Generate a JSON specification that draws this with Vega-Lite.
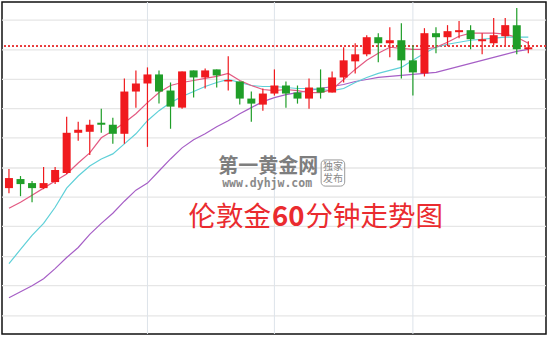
{
  "$schema": "https://vega.github.io/schema/vega-lite/v6.json",
  "width": 544,
  "height": 332,
  "padding": {"left": 2, "top": 2, "right": 4, "bottom": 4},
  "autosize": {"type": "none"},
  "background": "white",
  "config": {"view": {"stroke": "#111111", "strokeWidth": 1.5}},
  "datasets": {
    "candles": [
      {"t": 1, "dir": "up", "open": 1264.7, "close": 1265.7, "high": 1266.6, "low": 1264.2},
      {"t": 2, "dir": "down", "open": 1265.6, "close": 1265.1, "high": 1265.9, "low": 1263.9},
      {"t": 3, "dir": "down", "open": 1265.2, "close": 1264.7, "high": 1265.4, "low": 1263.3},
      {"t": 4, "dir": "up", "open": 1264.7, "close": 1265.2, "high": 1266.8, "low": 1264.6},
      {"t": 5, "dir": "up", "open": 1265.3, "close": 1266.5, "high": 1266.8, "low": 1265.1},
      {"t": 6, "dir": "up", "open": 1266.2, "close": 1270.2, "high": 1271.8, "low": 1266.1},
      {"t": 7, "dir": "up", "open": 1270.2, "close": 1270.5, "high": 1271.3, "low": 1269.4},
      {"t": 8, "dir": "up", "open": 1270.3, "close": 1271.0, "high": 1271.5, "low": 1268.0},
      {"t": 9, "dir": "down", "open": 1271.2, "close": 1271.0, "high": 1272.6, "low": 1270.2},
      {"t": 10, "dir": "down", "open": 1271.0, "close": 1270.1, "high": 1271.7, "low": 1269.1},
      {"t": 11, "dir": "up", "open": 1270.1, "close": 1274.3, "high": 1275.6, "low": 1269.1},
      {"t": 12, "dir": "up", "open": 1274.3, "close": 1275.1, "high": 1276.4, "low": 1272.7},
      {"t": 13, "dir": "up", "open": 1275.1, "close": 1276.0, "high": 1276.7, "low": 1268.8},
      {"t": 14, "dir": "down", "open": 1276.0, "close": 1274.3, "high": 1276.4, "low": 1273.1},
      {"t": 15, "dir": "down", "open": 1274.4, "close": 1272.8, "high": 1275.2, "low": 1270.6},
      {"t": 16, "dir": "up", "open": 1272.7, "close": 1276.3, "high": 1276.3, "low": 1272.6},
      {"t": 17, "dir": "down", "open": 1276.4, "close": 1275.7, "high": 1276.4, "low": 1273.7},
      {"t": 18, "dir": "up", "open": 1275.7, "close": 1276.4, "high": 1276.6, "low": 1274.6},
      {"t": 19, "dir": "down", "open": 1276.5, "close": 1275.9, "high": 1276.5, "low": 1274.7},
      {"t": 20, "dir": "up", "open": 1275.3, "close": 1275.45, "high": 1277.8, "low": 1274.4},
      {"t": 21, "dir": "down", "open": 1275.3, "close": 1273.6, "high": 1275.3, "low": 1273.0},
      {"t": 22, "dir": "down", "open": 1273.6, "close": 1273.1, "high": 1274.3, "low": 1271.3},
      {"t": 23, "dir": "up", "open": 1273.0, "close": 1274.1, "high": 1274.6, "low": 1272.4},
      {"t": 24, "dir": "up", "open": 1274.1, "close": 1274.9, "high": 1276.5, "low": 1273.9},
      {"t": 25, "dir": "down", "open": 1274.9, "close": 1274.1, "high": 1275.3, "low": 1272.7},
      {"t": 26, "dir": "down", "open": 1274.2, "close": 1273.6, "high": 1274.9, "low": 1273.1},
      {"t": 27, "dir": "up", "open": 1273.6, "close": 1274.7, "high": 1275.6, "low": 1272.6},
      {"t": 28, "dir": "down", "open": 1274.7, "close": 1274.2, "high": 1276.5, "low": 1273.6},
      {"t": 29, "dir": "up", "open": 1274.2, "close": 1275.7, "high": 1276.3, "low": 1274.2},
      {"t": 30, "dir": "up", "open": 1275.7, "close": 1277.4, "high": 1278.7, "low": 1275.2},
      {"t": 31, "dir": "up", "open": 1277.3, "close": 1278.0, "high": 1279.1, "low": 1276.1},
      {"t": 32, "dir": "up", "open": 1278.0, "close": 1279.7, "high": 1279.9, "low": 1277.8},
      {"t": 33, "dir": "down", "open": 1279.7, "close": 1279.1, "high": 1280.1, "low": 1277.2},
      {"t": 34, "dir": "up", "open": 1279.1, "close": 1279.4, "high": 1280.7, "low": 1277.7},
      {"t": 35, "dir": "down", "open": 1279.4, "close": 1277.4, "high": 1281.1, "low": 1275.6},
      {"t": 36, "dir": "down", "open": 1277.4, "close": 1276.2, "high": 1278.9, "low": 1273.9},
      {"t": 37, "dir": "up", "open": 1276.1, "close": 1280.1, "high": 1280.6, "low": 1275.8},
      {"t": 38, "dir": "down", "open": 1280.1, "close": 1279.7, "high": 1280.7, "low": 1278.1},
      {"t": 39, "dir": "up", "open": 1279.7, "close": 1280.3, "high": 1280.9, "low": 1278.8},
      {"t": 40, "dir": "up", "open": 1280.2, "close": 1280.4, "high": 1281.3, "low": 1279.6},
      {"t": 41, "dir": "down", "open": 1280.4, "close": 1279.5, "high": 1280.9, "low": 1278.5},
      {"t": 42, "dir": "up", "open": 1279.3, "close": 1279.5, "high": 1280.1, "low": 1278.0},
      {"t": 43, "dir": "up", "open": 1279.1, "close": 1279.9, "high": 1281.6, "low": 1278.9},
      {"t": 44, "dir": "up", "open": 1279.8, "close": 1280.9, "high": 1281.6, "low": 1278.9},
      {"t": 45, "dir": "down", "open": 1280.9, "close": 1278.5, "high": 1282.6, "low": 1278.0},
      {"t": 46, "dir": "up", "open": 1278.5, "close": 1278.7, "high": 1279.3, "low": 1278.1}
    ],
    "ma": [
      {"t": 1, "ma5": 1262.7, "ma10": 1257.2, "ma20": 1253.8},
      {"t": 2, "ma5": 1263.3, "ma10": 1258.6, "ma20": 1254.4},
      {"t": 3, "ma5": 1264.0, "ma10": 1260.0, "ma20": 1255.0},
      {"t": 4, "ma5": 1264.7, "ma10": 1261.2, "ma20": 1255.7},
      {"t": 5, "ma5": 1265.4, "ma10": 1262.8, "ma20": 1256.7},
      {"t": 6, "ma5": 1266.1, "ma10": 1264.7, "ma20": 1257.8},
      {"t": 7, "ma5": 1267.2, "ma10": 1265.9, "ma20": 1258.8},
      {"t": 8, "ma5": 1268.2, "ma10": 1266.9, "ma20": 1260.1},
      {"t": 9, "ma5": 1269.7, "ma10": 1267.6, "ma20": 1261.2},
      {"t": 10, "ma5": 1270.4, "ma10": 1268.1, "ma20": 1262.2},
      {"t": 11, "ma5": 1271.2, "ma10": 1269.1, "ma20": 1263.4},
      {"t": 12, "ma5": 1272.1, "ma10": 1270.1, "ma20": 1264.5},
      {"t": 13, "ma5": 1273.2, "ma10": 1271.4, "ma20": 1265.2},
      {"t": 14, "ma5": 1274.2, "ma10": 1272.4, "ma20": 1266.4},
      {"t": 15, "ma5": 1274.9, "ma10": 1273.2, "ma20": 1267.6},
      {"t": 16, "ma5": 1275.2, "ma10": 1273.8, "ma20": 1268.7},
      {"t": 17, "ma5": 1275.4, "ma10": 1274.3, "ma20": 1269.5},
      {"t": 18, "ma5": 1275.6, "ma10": 1274.8, "ma20": 1270.1},
      {"t": 19, "ma5": 1275.8, "ma10": 1275.2, "ma20": 1270.8},
      {"t": 20, "ma5": 1276.1, "ma10": 1275.5, "ma20": 1271.4},
      {"t": 21, "ma5": 1275.4, "ma10": 1275.2, "ma20": 1272.1},
      {"t": 22, "ma5": 1274.9, "ma10": 1274.9, "ma20": 1272.7},
      {"t": 23, "ma5": 1274.5, "ma10": 1274.8, "ma20": 1273.3},
      {"t": 24, "ma5": 1274.4, "ma10": 1274.8, "ma20": 1273.7},
      {"t": 25, "ma5": 1274.5, "ma10": 1274.7, "ma20": 1274.0},
      {"t": 26, "ma5": 1274.4, "ma10": 1274.6, "ma20": 1274.2},
      {"t": 27, "ma5": 1274.2, "ma10": 1274.6, "ma20": 1274.4},
      {"t": 28, "ma5": 1274.2, "ma10": 1274.5, "ma20": 1274.6},
      {"t": 29, "ma5": 1274.5, "ma10": 1274.4, "ma20": 1274.8},
      {"t": 30, "ma5": 1275.5, "ma10": 1274.6, "ma20": 1275.0},
      {"t": 31, "ma5": 1276.5, "ma10": 1275.2, "ma20": 1275.3},
      {"t": 32, "ma5": 1277.4, "ma10": 1275.7, "ma20": 1275.5},
      {"t": 33, "ma5": 1278.1, "ma10": 1276.1, "ma20": 1275.7},
      {"t": 34, "ma5": 1278.7, "ma10": 1276.4, "ma20": 1275.8},
      {"t": 35, "ma5": 1278.6, "ma10": 1276.7, "ma20": 1275.9},
      {"t": 36, "ma5": 1278.5, "ma10": 1277.4, "ma20": 1276.0},
      {"t": 37, "ma5": 1278.5, "ma10": 1278.1, "ma20": 1276.1},
      {"t": 38, "ma5": 1278.7, "ma10": 1278.7, "ma20": 1276.2},
      {"t": 39, "ma5": 1279.2, "ma10": 1279.0, "ma20": 1276.5},
      {"t": 40, "ma5": 1279.8, "ma10": 1279.2, "ma20": 1276.8},
      {"t": 41, "ma5": 1280.1, "ma10": 1279.4, "ma20": 1277.1},
      {"t": 42, "ma5": 1280.1, "ma10": 1279.5, "ma20": 1277.4},
      {"t": 43, "ma5": 1280.1, "ma10": 1279.6, "ma20": 1277.7},
      {"t": 44, "ma5": 1280.0, "ma10": 1279.7, "ma20": 1278.0},
      {"t": 45, "ma5": 1279.7, "ma10": 1279.7, "ma20": 1278.3},
      {"t": 46, "ma5": 1279.1, "ma10": 1279.7, "ma20": 1278.5}
    ],
    "hgrid": [
      {"p": 1281.4}, {"p": 1278.45}, {"p": 1275.5}, {"p": 1272.6}, {"p": 1269.7}, {"p": 1266.7},
      {"p": 1263.8}, {"p": 1260.9}, {"p": 1257.9}, {"p": 1255.0}, {"p": 1252.0}
    ],
    "vgrid": [{"t": 13}, {"t": 24}, {"t": 36}],
    "title": [
      {"t": 23.71, "p": 1261.75, "label": "伦敦金", "part": "a"},
      {"t": 23.8, "p": 1261.75, "label": "60", "part": "b"},
      {"t": 26.69, "p": 1261.75, "label": "分钟走势图", "part": "c"}
    ],
    "wm": [
      {"t": 23.46, "p": 1266.75, "label": "第一黄金网"}
    ],
    "wm2": [
      {"t": 23.37, "p": 1265.1, "label": "www.dyhjw.com"}
    ],
    "wm3": [
      {"t": 29.07, "p": 1266.8, "label": "独家"},
      {"t": 29.07, "p": 1265.6, "label": "发布"}
    ],
    "wmbox": [
      {"t1": 28.05, "t2": 30.09, "p1": 1267.5, "p2": 1264.9}
    ]
  },
  "encoding": {
    "x": {"type": "quantitative", "scale": {"domain": [0.83, 47.1], "nice": false, "zero": false}, "axis": null},
    "y": {"type": "quantitative", "scale": {"domain": [1250.2, 1283.2], "nice": false, "zero": false}, "axis": null}
  },
  "layer": [
    {
      "data": {"name": "hgrid"},
      "mark": {"type": "rule", "color": "#e6e6e6", "strokeWidth": 1.3},
      "encoding": {"y": {"field": "p", "type": "quantitative"}}
    },
    {
      "data": {"name": "vgrid"},
      "mark": {"type": "rule", "color": "#dde3ea", "strokeWidth": 1},
      "encoding": {"x": {"field": "t", "type": "quantitative"}}
    },
    {
      "data": {"name": "hgrid"},
      "mark": {"type": "rule", "color": "#e8383a", "strokeDash": [2, 2], "strokeWidth": 1},
      "encoding": {"y": {"datum": 1278.8, "type": "quantitative"}}
    },
    {
      "data": {"name": "ma"},
      "mark": {"type": "line", "color": "#a65fc6", "strokeWidth": 1.2},
      "encoding": {"x": {"field": "t"}, "y": {"field": "ma20"}}
    },
    {
      "data": {"name": "ma"},
      "mark": {"type": "line", "color": "#5fd0d8", "strokeWidth": 1.2},
      "encoding": {"x": {"field": "t"}, "y": {"field": "ma10"}}
    },
    {
      "data": {"name": "ma"},
      "mark": {"type": "line", "color": "#e35a82", "strokeWidth": 1.2},
      "encoding": {"x": {"field": "t"}, "y": {"field": "ma5"}}
    },
    {
      "data": {"name": "candles"},
      "mark": {"type": "rule", "strokeWidth": 1.2},
      "encoding": {
        "x": {"field": "t"},
        "y": {"field": "low"},
        "y2": {"field": "high"},
        "color": {"field": "dir", "type": "nominal", "scale": {"domain": ["up", "down"], "range": ["#f01a1e", "#1f9e28"]}, "legend": null}
      }
    },
    {
      "data": {"name": "candles"},
      "mark": {"type": "bar", "size": 8},
      "encoding": {
        "x": {"field": "t"},
        "y": {"field": "open"},
        "y2": {"field": "close"},
        "color": {"field": "dir", "type": "nominal", "scale": {"domain": ["up", "down"], "range": ["#f01a1e", "#1f9e28"]}, "legend": null}
      }
    },
    {
      "data": {"name": "wmbox"},
      "mark": {"type": "rect", "fill": null, "stroke": "#9a9a9a", "strokeWidth": 1, "cornerRadius": 4},
      "encoding": {
        "x": {"field": "t1", "type": "quantitative"},
        "x2": {"field": "t2"},
        "y": {"field": "p1", "type": "quantitative"},
        "y2": {"field": "p2"}
      }
    },
    {
      "data": {"name": "wm"},
      "mark": {"type": "text", "font": "Noto Sans CJK SC", "fontSize": 20, "fontWeight": "bold", "color": "#7e7e7e", "align": "center", "baseline": "middle"},
      "encoding": {"x": {"field": "t"}, "y": {"field": "p"}, "text": {"field": "label"}}
    },
    {
      "data": {"name": "wm2"},
      "mark": {"type": "text", "font": "DejaVu Sans Mono", "fontSize": 11.5, "fontWeight": "bold", "color": "#8a8a8a", "align": "center", "baseline": "middle"},
      "encoding": {"x": {"field": "t"}, "y": {"field": "p"}, "text": {"field": "label"}}
    },
    {
      "data": {"name": "wm3"},
      "mark": {"type": "text", "font": "Noto Sans CJK SC", "fontSize": 10, "color": "#8a8a8a", "align": "center", "baseline": "middle"},
      "encoding": {"x": {"field": "t"}, "y": {"field": "p"}, "text": {"field": "label"}}
    },
    {
      "data": {"name": "title"},
      "transform": [{"filter": "datum.part == 'a'"}],
      "mark": {"type": "text", "font": "Noto Sans CJK SC", "fontSize": 27.5, "color": "#ea2b2f", "align": "right", "baseline": "middle"},
      "encoding": {"x": {"field": "t"}, "y": {"field": "p"}, "text": {"field": "label"}}
    },
    {
      "data": {"name": "title"},
      "transform": [{"filter": "datum.part == 'b'"}],
      "mark": {"type": "text", "font": "Noto Sans CJK SC", "fontSize": 27.5, "fontWeight": "bold", "color": "#ea2b2f", "align": "left", "baseline": "middle"},
      "encoding": {"x": {"field": "t"}, "y": {"field": "p"}, "text": {"field": "label"}}
    },
    {
      "data": {"name": "title"},
      "transform": [{"filter": "datum.part == 'c'"}],
      "mark": {"type": "text", "font": "Noto Sans CJK SC", "fontSize": 27.5, "color": "#ea2b2f", "align": "left", "baseline": "middle"},
      "encoding": {"x": {"field": "t"}, "y": {"field": "p"}, "text": {"field": "label"}}
    }
  ]
}
